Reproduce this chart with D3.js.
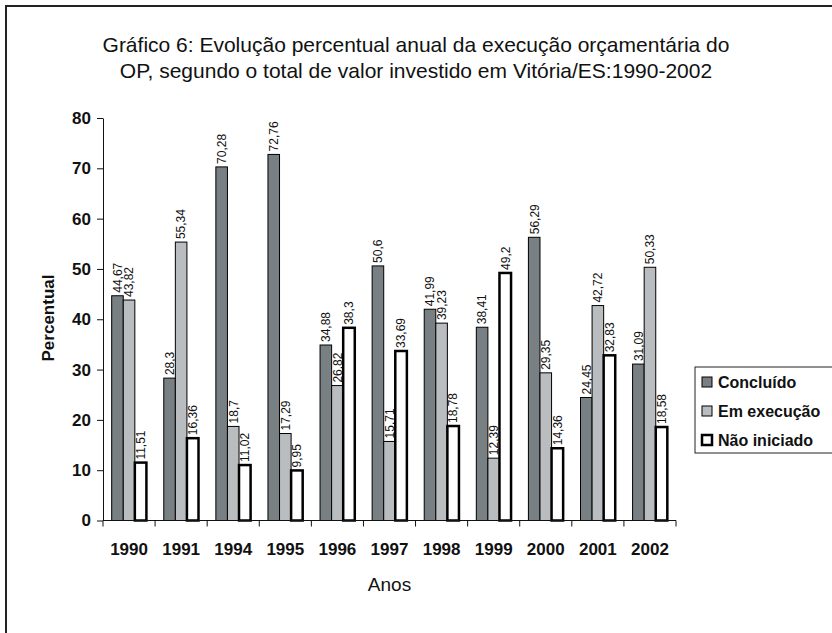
<!DOCTYPE html>
<html>
<head>
<meta charset="utf-8">
<script src="https://cdn.jsdelivr.net/npm/d3@7"></script>
<style>
  body { margin: 0; background: #fff; }
  text { font-family: "Liberation Sans", Arial, sans-serif; }
</style>
</head>
<body>
<div id="chart"></div>
<script>
// Data
var anos = ['1990', '1991', '1994', '1995', '1996', '1997', '1998', '1999', '2000', '2001', '2002'];
var series = ['Concluído', 'Em execução', 'Não iniciado'];
var concluido = [44.67, 28.3, 70.28, 72.76, 34.88, 50.6, 41.99, 38.41, 56.29, 24.45, 31.09];
var emExecucao = [43.82, 55.34, 18.7, 17.29, 26.82, 15.71, 39.23, 12.39, 29.35, 42.72, 50.33];
var naoIniciado = [11.51, 16.36, 11.02, 9.95, 38.3, 33.69, 18.78, 49.2, 14.36, 32.83, 18.58];
var yTicks = [0, 10, 20, 30, 40, 50, 60, 70, 80];

var values = [concluido, emExecucao, naoIniciado];
var fills = ['#798083', '#babdbf', '#ffffff'];
var strokeW = [1, 1, 2.5];

var width = 832, height = 633;
var margin = { top: 118, right: 156, bottom: 112, left: 103 };

var svg = d3.select('#chart').append('svg')
	.attr('width', width)
	.attr('height', height);

// Outer frame (runs off the right and bottom edges)
svg.append('rect')
	.attr('x', 6).attr('y', 6)
	.attr('width', 900).attr('height', 900)
	.attr('fill', 'none')
	.attr('stroke', '#222')
	.attr('stroke-width', 2);

// Title
var title = svg.append('text')
	.attr('text-anchor', 'middle')
	.style('font-size', '21px')
	.attr('fill', '#111');
title.append('tspan').attr('x', 416).attr('y', 52)
	.text('Gráfico 6: Evolução percentual anual da execução orçamentária do');
title.append('tspan').attr('x', 416).attr('y', 78)
	.text('OP, segundo o total de valor investido em Vitória/ES:1990-2002');

/***********************************************************
  Scales
***********************************************************/
var x = d3.scaleBand().domain(anos).range([margin.left, width - margin.right]);
var xi = d3.scaleBand().domain(d3.range(series.length))
	.range([0, x.bandwidth()]).paddingInner(0).paddingOuter(0.75);
var y = d3.scaleLinear().domain([0, 80]).range([height - margin.bottom - 0.5, margin.top]);

var fmt = function(v) { return String(v).replace('.', ','); };

/***********************************************************
  Bars and value labels
***********************************************************/
var g = svg.append('g');
for (var s = 0; s < series.length; s++) {
	anos.forEach(function(a, i) {
		var v = values[s][i];
		var bx = x(a) + xi(s);
		g.append('rect')
			.attr('x', bx)
			.attr('y', y(v))
			.attr('width', xi.bandwidth())
			.attr('height', y(0) - y(v))
			.attr('fill', fills[s])
			.attr('stroke', '#000')
			.attr('stroke-width', strokeW[s]);
		var cx = bx + xi.bandwidth() / 2;
		var cy = y(v) - 3;
		g.append('text')
			.text(fmt(v))
			.attr('transform', 'translate(' + cx + ',' + cy + ') rotate(-90)')
			.attr('dy', '0.36em')
			.style('font-size', '12px')
			.attr('fill', '#111');
	});
}

/***********************************************************
  Axes
***********************************************************/
var yAxis = svg.append('g')
	.attr('transform', 'translate(' + margin.left + ',0)')
	.call(d3.axisLeft(y).tickValues(yTicks).tickSize(6).tickPadding(6).tickSizeOuter(0));
yAxis.selectAll('text').style('font-size', '17px').style('font-weight', 'bold').attr('fill', '#111');
yAxis.selectAll('line, path').attr('stroke', '#111');

var xAxis = svg.append('g')
	.attr('transform', 'translate(0,' + y(0) + ')');
xAxis.append('line')
	.attr('x1', x.range()[0]).attr('x2', x.range()[1])
	.attr('stroke', '#111');
var bounds = anos.map(function(a) { return x(a); }).concat([x.range()[1]]);
xAxis.selectAll('.tk').data(bounds).enter().append('line')
	.attr('x1', function(d) { return d; })
	.attr('x2', function(d) { return d; })
	.attr('y1', 0).attr('y2', 6)
	.attr('stroke', '#111');
xAxis.selectAll('.lbl').data(anos).enter().append('text')
	.attr('x', function(d) { return x(d) + x.bandwidth() / 2; })
	.attr('y', 34)
	.attr('text-anchor', 'middle')
	.style('font-size', '17px')
	.style('font-weight', 'bold')
	.attr('fill', '#111')
	.text(function(d) { return d; });

// Axis titles
svg.append('text')
	.text('Anos')
	.attr('x', (x.range()[0] + x.range()[1]) / 2)
	.attr('y', 591)
	.attr('text-anchor', 'middle')
	.style('font-size', '19px')
	.attr('fill', '#111');
svg.append('text')
	.text('Percentual')
	.attr('transform', 'translate(54,318) rotate(-90)')
	.attr('text-anchor', 'middle')
	.style('font-size', '17px')
	.style('font-weight', 'bold')
	.attr('fill', '#111');

/***********************************************************
  Legend
***********************************************************/
var legend = svg.append('g').attr('transform', 'translate(695,367)');
legend.append('rect')
	.attr('width', 160).attr('height', 86)
	.attr('fill', '#fff')
	.attr('stroke', '#222')
	.attr('stroke-width', 1);
series.forEach(function(name, s) {
	var ly = 15 + s * 29;
	legend.append('rect')
		.attr('x', 7).attr('y', ly - 5)
		.attr('width', 10).attr('height', 10)
		.attr('fill', fills[s])
		.attr('stroke', '#000')
		.attr('stroke-width', strokeW[s]);
	legend.append('text')
		.text(name)
		.attr('x', 23).attr('y', ly)
		.attr('dy', '0.36em')
		.style('font-size', '16px')
		.style('font-weight', 'bold')
		.attr('fill', '#111');
});
</script>
</body>
</html>
